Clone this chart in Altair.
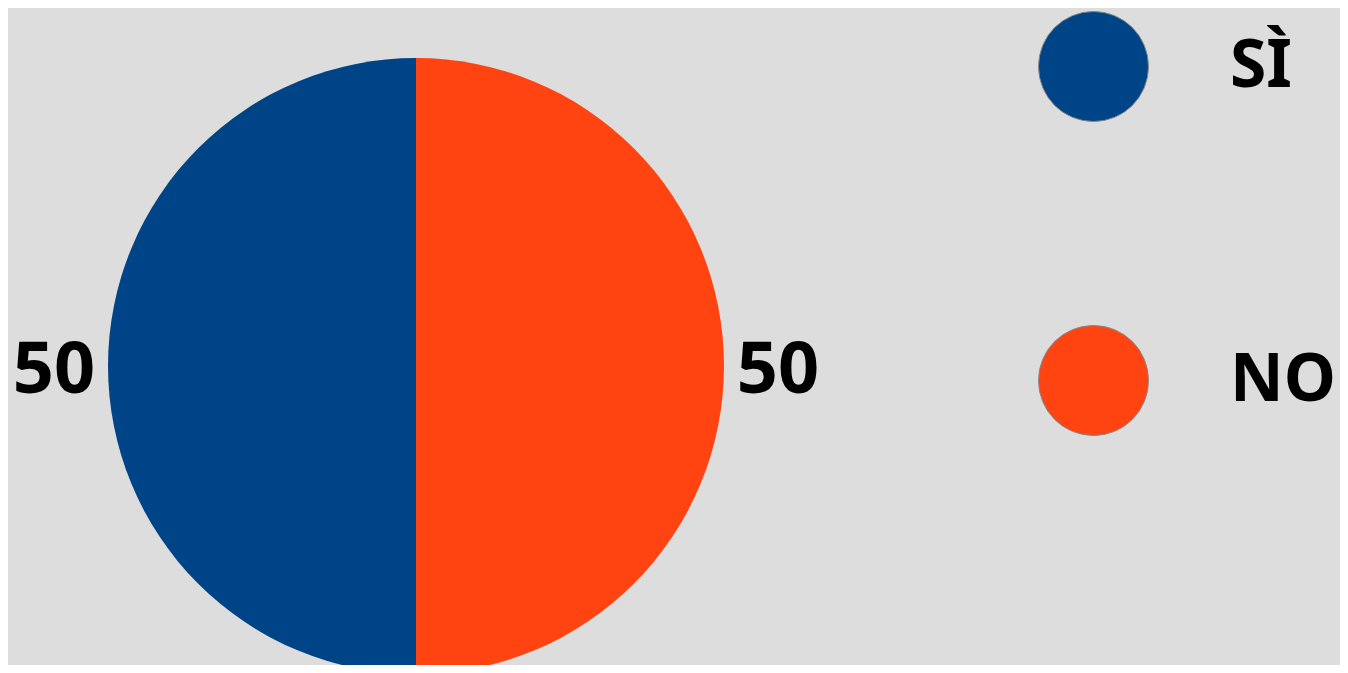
import altair as alt
import pandas as pd

categories = ["SÌ", "NO"]
values = [50, 50]
colors = ["#004488", "#FF4411"]

df = pd.DataFrame({"risposta": categories, "valore": values})

FONT = "Noto Sans"

base = alt.Chart(df).encode(
    theta=alt.Theta("valore:Q", stack=True),
    color=alt.Color(
        "risposta:N",
        scale=alt.Scale(domain=categories, range=colors),
        legend=alt.Legend(
            title=None,
            orient="none",
            legendX=1030,
            legendY=3,
            symbolType="circle",
            symbolSize=12100,
            symbolStrokeColor="#888888",
            symbolStrokeWidth=1,
            symbolOpacity=1,
            labelFont=FONT,
            labelFontSize=66,
            labelFontWeight="bold",
            labelColor="#000000",
            labelOffset=81,
            labelLimit=400,
            rowPadding=199,
        ),
    ),
)

pie = base.mark_arc(radius=308, stroke=None).encode(
    x=alt.value(408), y=alt.value(358)
)

labels = alt.Chart(df).mark_text(
    radius=362, font=FONT, fontSize=72, fontWeight="bold", color="#000000", dy=5
).encode(
    theta=alt.Theta("valore:Q", stack=True),
    detail="risposta:N",
    x=alt.value(408),
    y=alt.value(358),
    text=alt.Text("valore:Q"),
)

chart = (
    alt.layer(pie, labels)
    .properties(
        width=1332,
        height=657,
        padding=0,
        background="#DDDDDD",
        autosize=alt.AutoSizeParams(type="none"),
    )
    .configure_view(stroke=None)
)

chart.save("out.html", embed_options={"renderer": "svg", "actions": False})
